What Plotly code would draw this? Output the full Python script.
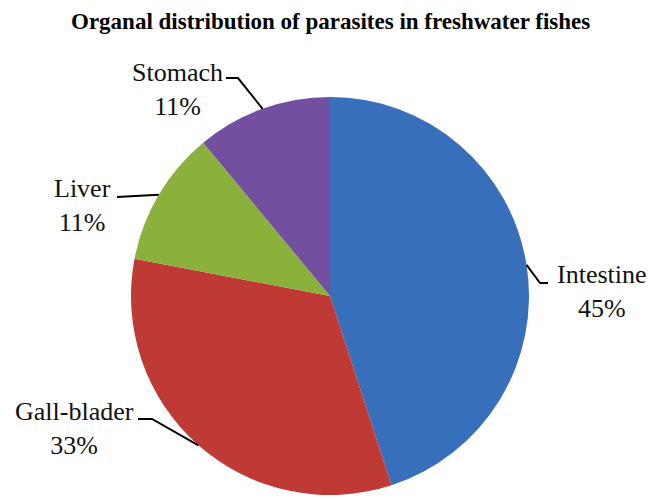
import math
import plotly.graph_objects as go

# ---- data ----
organs = ["Intestine", "Gall-blader", "Liver", "Stomach"]
percent = [45, 33, 11, 11]
colors = ["#386FBA", "#BF3935", "#8AB13B", "#72509F"]
title_text = "Organal distribution of parasites in freshwater fishes"

# ---- layout constants (pixels) ----
W, H = 652, 498
CX, CY, R = 330, 296, 199
FONT = "Liberation Serif, Times New Roman, serif"
FS = 26

# label block centres and leader elbow/end points (pixels), per organ
label_pos = {"Intestine": (602, 291), "Gall-blader": (74, 428),
             "Liver": (83, 205), "Stomach": (177, 89)}
leader_pts = {"Intestine": [(540, 283), (548, 283)],
              "Gall-blader": [(152, 419), (138, 419)],
              "Liver": [(117, 197)],
              "Stomach": [(238, 78), (226, 78)]}


def px(x):
    return x / W


def py(y):
    return 1 - y / H


fig = go.Figure(go.Pie(
    labels=organs, values=percent, sort=False, direction="clockwise",
    rotation=0, marker=dict(colors=colors, line=dict(width=0)),
    textinfo="none", hoverinfo="label+percent", showlegend=False,
    domain=dict(x=[px(CX - R), px(CX + R)], y=[py(CY + R), py(CY - R)]),
))

total = sum(percent)
cum = 0
shapes, annotations = [], []
for name, v in zip(organs, percent):
    mid = (cum + v / 2) / total * 2 * math.pi
    cum += v
    ex = CX + R * math.sin(mid)
    ey = CY - R * math.cos(mid)
    pts = [(ex, ey)] + leader_pts[name]
    path = "M " + " L ".join(f"{px(a):.5f},{py(b):.5f}" for a, b in pts)
    shapes.append(dict(type="path", path=path, xref="paper", yref="paper",
                       line=dict(color="black", width=2)))
    lx, ly = label_pos[name]
    annotations.append(dict(
        x=px(lx), y=py(ly), xref="paper", yref="paper", showarrow=False,
        text=f"{name}<br>{v}%", align="center",
        font=dict(family=FONT, size=FS, color="#111111"),
        xanchor="center", yanchor="middle"))

annotations.append(dict(
    x=px(330), y=py(22), xref="paper", yref="paper", showarrow=False,
    text=f"<b>{title_text}</b>", xanchor="center", yanchor="middle",
    font=dict(family=FONT, size=23, color="#000000")))

fig.update_layout(
    width=W, height=H, margin=dict(l=0, r=0, t=0, b=0),
    paper_bgcolor="white", plot_bgcolor="white",
    shapes=shapes, annotations=annotations,
)

fig.write_html("out.html", config={"displayModeBar": False},
               post_script="document.body.style.margin='0';"
                           "document.body.style.overflow='hidden';")
